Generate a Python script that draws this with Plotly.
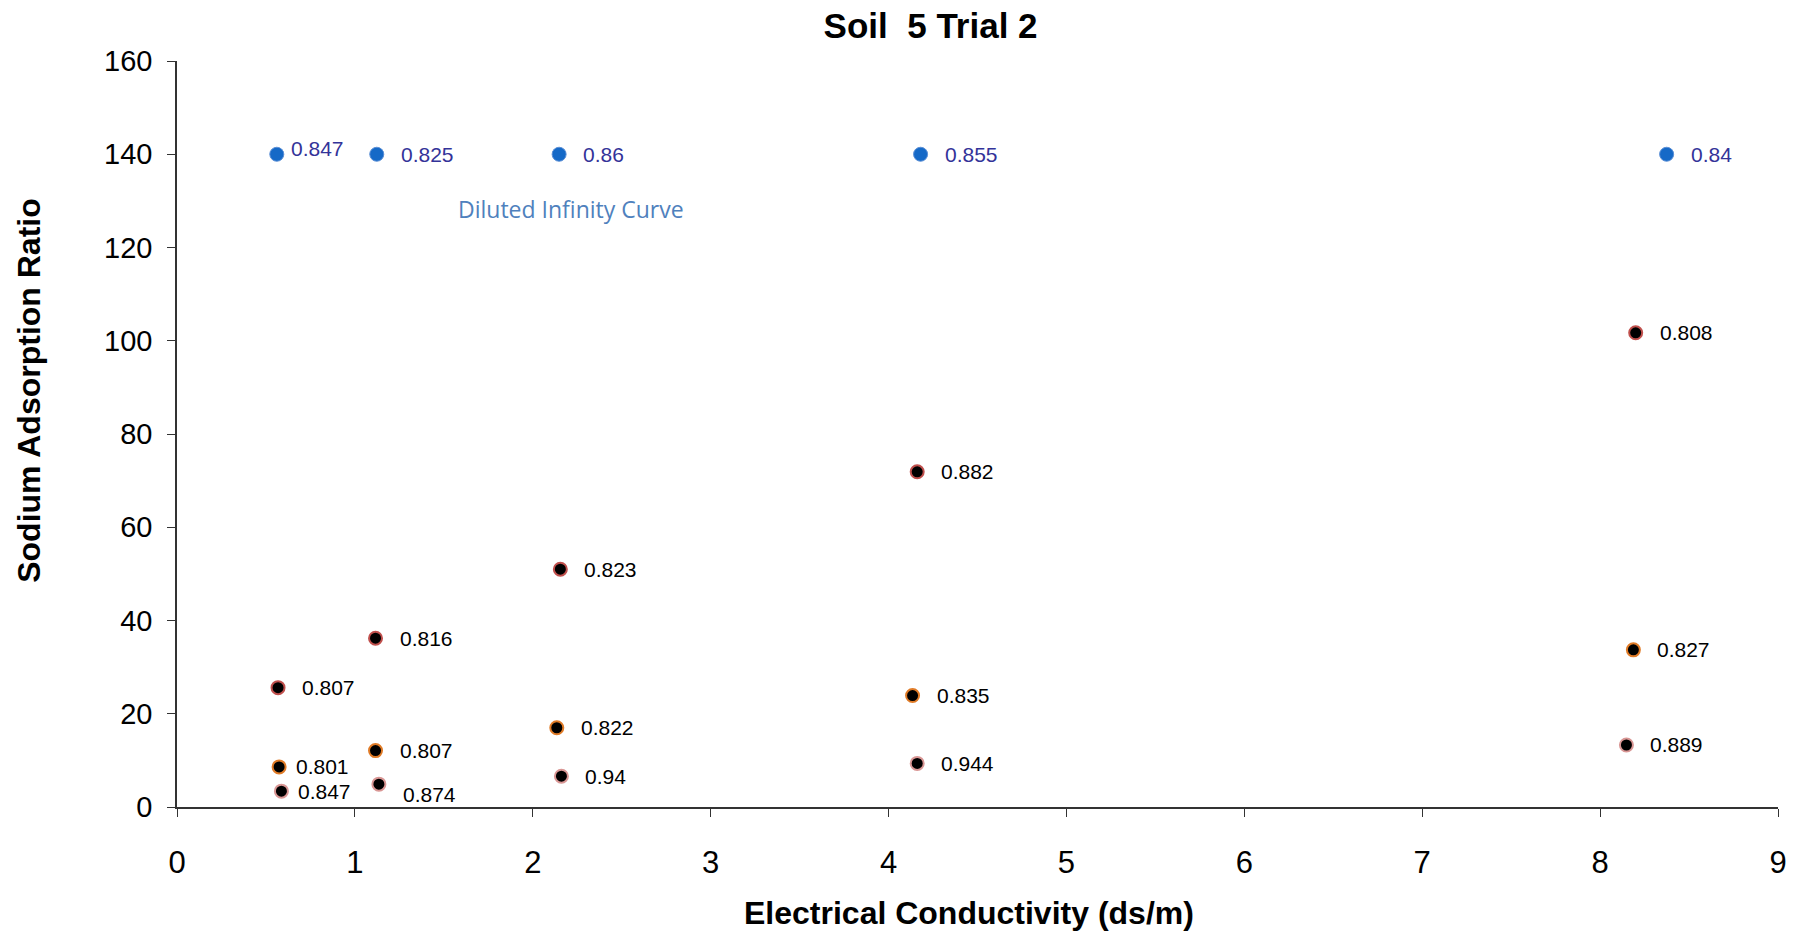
import plotly.graph_objects as go

# Diluted infinity curve (blue)
inf_x = [0.561, 1.123, 2.148, 4.18, 8.374]
inf_y = [140, 140, 140, 140, 140]
inf_lbl = ["0.847", "0.825", "0.86", "0.855", "0.84"]

# High SAR series (red outline)
hi_x = [0.568, 1.116, 2.155, 4.161, 8.20]
hi_y = [25.6, 36.2, 51.0, 71.9, 101.7]
hi_lbl = ["0.807", "0.816", "0.823", "0.882", "0.808"]

# Mid SAR series (orange outline)
mid_x = [0.574, 1.116, 2.135, 4.135, 8.187]
mid_y = [8.6, 12.1, 17.0, 23.9, 33.7]
mid_lbl = ["0.801", "0.807", "0.822", "0.835", "0.827"]

# Low SAR series (pink outline)
lo_x = [0.587, 1.135, 2.161, 4.161, 8.148]
lo_y = [3.4, 4.9, 6.6, 9.35, 13.3]
lo_lbl = ["0.847", "0.874", "0.94", "0.944", "0.889"]

x_ticks = [0, 1, 2, 3, 4, 5, 6, 7, 8, 9]
y_ticks = [0, 20, 40, 60, 80, 100, 120, 140, 160]

FONT = "Liberation Sans, Arial, sans-serif"

fig = go.Figure()

series = [
    (inf_x, inf_y, inf_lbl, dict(color="#1569C7", size=14, line=dict(color="#5B8FD6", width=1)), "#333399"),
    (hi_x, hi_y, hi_lbl, dict(color="black", size=13, line=dict(color="#C0504D", width=2)), "black"),
    (mid_x, mid_y, mid_lbl, dict(color="black", size=13, line=dict(color="#E07B27", width=2)), "black"),
    (lo_x, lo_y, lo_lbl, dict(color="black", size=13, line=dict(color="#D99694", width=2)), "black"),
]

annotations = []
for xs, ys, lbls, mk, tc in series:
    fig.add_trace(go.Scatter(x=xs, y=ys, mode="markers", marker=mk, showlegend=False, hoverinfo="x+y"))
    for xv, yv, t in zip(xs, ys, lbls):
        annotations.append(dict(x=xv, y=yv, text=t, showarrow=False, xanchor="left", yanchor="middle",
                                xshift=22, yshift=0, font=dict(family=FONT, size=21, color=tc)))

# small placement tweaks for labels that sit closer / offset
annotations[0].update(xshift=12, yshift=6)      # blue 0.847
annotations[10].update(xshift=15)               # 0.801 (mid)
annotations[15].update(xshift=15)               # 0.847 (low)
annotations[16].update(yshift=-10)              # 0.874 (low)

annotations.append(dict(x=2.213, y=128.2, text="Diluted Infinity Curve", showarrow=False,
                        xanchor="center", yanchor="middle",
                        font=dict(family="Open Sans, Carlito, sans-serif", size=23, color="#4F81BD")))

# axis titles
annotations.append(dict(xref="paper", yref="paper", x=0.495, y=-0.142, text="<b>Electrical Conductivity (ds/m)</b>",
                        showarrow=False, xanchor="center", yanchor="middle",
                        font=dict(family=FONT, size=32, color="black")))
annotations.append(dict(xref="paper", yref="paper", x=-0.0924, y=0.558, text="<b>Sodium Adsorption Ratio</b>",
                        showarrow=False, xanchor="center", yanchor="middle", textangle=-90,
                        font=dict(family=FONT, size=32, color="black")))

fig.update_layout(
    width=1800, height=936,
    paper_bgcolor="white", plot_bgcolor="white",
    margin=dict(l=177, r=22, t=61, b=129),
    title=dict(text="<b>Soil&nbsp;&nbsp;5 Trial 2</b>", x=0.517, xanchor="center", y=0.973, yanchor="middle",
               font=dict(family=FONT, size=35, color="black")),
    annotations=annotations,
    font=dict(family=FONT, color="black"),
)
fig.update_xaxes(range=[0, 9], tickvals=x_ticks, ticktext=[str(v) for v in x_ticks],
                 showgrid=False, zeroline=False, showline=True, linecolor="#333", linewidth=1.5,
                 ticks="outside", ticklen=8, tickcolor="#333", ticklabelstandoff=19,
                 tickfont=dict(family=FONT, size=31, color="black"))
fig.update_yaxes(range=[0, 160], tickvals=y_ticks, ticktext=[str(v) for v in y_ticks],
                 showgrid=False, zeroline=False, showline=True, linecolor="#333", linewidth=1.5,
                 ticks="outside", ticklen=8, tickcolor="#333", ticklabelstandoff=9,
                 tickfont=dict(family=FONT, size=29, color="black"))

fig.write_html("out.html")
